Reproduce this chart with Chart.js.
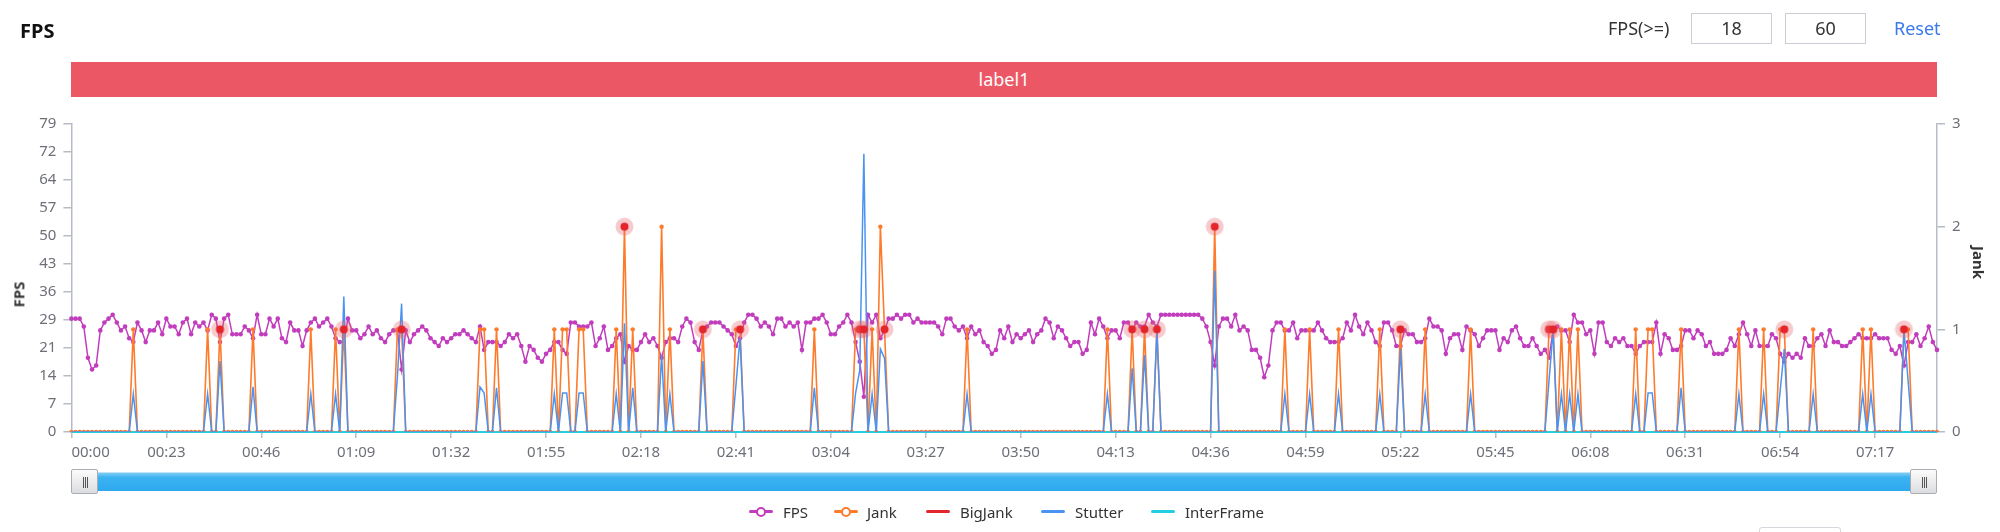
<!DOCTYPE html>
<html><head><meta charset="utf-8">
<script src="https://cdn.jsdelivr.net/npm/chart.js@4.4.1/dist/chart.umd.min.js"></script>
<style>
html,body{margin:0;padding:0;background:#fff;}
body{width:2000px;height:532px;position:relative;overflow:hidden;font-family:"Noto Sans",sans-serif;color:#333;}
#wrap{position:absolute;left:0;top:0;width:2000px;height:532px;z-index:0;}
.abs{position:absolute;z-index:2;white-space:nowrap;}
#title{left:20px;top:14px;font-size:20px;font-weight:bold;color:#111;line-height:34px;}
#ctlText{left:1608px;top:13px;line-height:31px;font-size:18px;color:#333;}
.box{top:13px;width:79px;height:29px;border:1px solid #c9cdd5;line-height:29px;text-align:center;font-size:18px;color:#333;background:#fff;}
#reset{left:1894px;top:13px;line-height:31px;font-size:18px;color:#3b79ef;}
#labelBar{left:71px;top:62px;width:1866px;height:35px;background:#ec5766;color:#fff;text-align:center;line-height:35px;font-size:18px;}
.axTitle{font-size:15px;font-weight:bold;color:#333;line-height:17px;transform-origin:center center;}
#slider{left:71px;top:469px;width:1866px;height:25px;}
#sbar{position:absolute;left:26px;right:26px;top:3px;height:19px;background:linear-gradient(#7fcdf6 0%,#3cb2f1 25%,#2ea9ee 100%);border-top:1px solid #bfe3f7;box-sizing:border-box;}
.handle{position:absolute;top:0;width:27px;height:25px;box-sizing:border-box;border:1px solid #a9acb2;border-radius:2px;background:linear-gradient(#fbfbfb,#dcdde0);}
.handle i{position:absolute;top:7px;width:1px;height:11px;background:#555;}
.leg{top:502px;height:20px;}
.licon{position:absolute;top:8px;width:24px;height:3px;border-radius:2px;}
.ldot{position:absolute;top:5px;left:7px;width:6px;height:6px;border-radius:50%;background:#fff;border-width:2px;border-style:solid;}
.ltext{position:absolute;top:0;line-height:20px;font-size:15px;color:#333;}
#corner{left:1759px;top:527px;width:80px;height:20px;border:1px solid #d3d6db;border-radius:3px;}
</style></head>
<body>
<div id="wrap"><canvas id="c"></canvas></div>
<div class="abs" id="title">FPS</div>
<div class="abs" id="ctlText">FPS(&gt;=)</div>
<div class="abs box" style="left:1691px">18</div>
<div class="abs box" style="left:1785px">60</div>
<div class="abs" id="reset">Reset</div>
<div class="abs" id="labelBar">label1</div>
<div class="abs axTitle" id="fpsTitle">FPS</div>
<div class="abs axTitle" id="jankTitle">Jank</div>
<div class="abs" id="slider"><div id="sbar"></div>
  <div class="handle" style="left:0"><i style="left:11px"></i><i style="left:13px"></i><i style="left:15px"></i></div>
  <div class="handle" style="right:0"><i style="left:11px"></i><i style="left:13px"></i><i style="left:15px"></i></div>
</div>
<div id="legend"></div>
<div class="abs" id="corner"></div>
<script>
// ---------- data ----------
const fps = [
29,29,29,27,19,16,17,26,28,29, 30,28,26,27,24,23,28,26,23,26,
26,28,25,29,27,27,25,28,29,25, 28,27,28,26,30,29,23,29,30,25,
25,25,27,26,24,30,25,25,29,27, 29,24,23,28,26,26,22,26,28,29,
27,28,29,27,24,23,23,29,26,26, 24,25,27,25,26,24,23,25,26,26,
16,26,23,25,26,27,26,24,23,22, 24,23,24,25,25,26,25,24,23,27,
21,23,23,23,22,23,25,24,25,22, 18,22,21,19,18,20,21,23,23,21,
20,28,28,27,27,27,28,22,24,27, 21,22,24,25,18,22,21,21,23,25,
23,24,22,19,23,24,24,23,27,29, 28,23,21,26,27,28,28,28,27,26,
25,22,24,28,30,30,29,27,28,27, 25,29,29,27,28,27,28,21,28,28,
29,29,30,28,25,25,27,28,30,28, 23,18,9,30,28,30,24,26,29,29,
30,29,30,30,28,29,28,28,28,28, 27,25,29,29,27,26,27,24,27,25,
26,23,22,20,21,26,24,27,23,25, 24,25,26,23,25,26,29,28,24,27,
26,24,22,23,23,20,21,28,25,29, 27,24,26,26,24,28,28,26,28,27,
27,30,28,27,30,30,30,30,30,30, 30,30,30,30,29,27,23,17,27,29,
29,27,30,26,27,26,21,21,19,14, 17,26,28,28,26,26,28,24,26,26,
26,26,28,26,24,23,23,23,24,28, 26,30,27,25,28,26,23,22,28,28,
26,22,22,26,25,25,23,23,24,29, 27,27,26,20,24,25,25,21,27,26,
25,22,24,26,26,26,21,24,23,26, 27,24,22,22,24,22,20,21,19,26,
27,26,26,23,30,28,28,25,26,20, 28,28,23,22,24,23,24,22,22,20,
22,23,23,23,28,20,25,24,21,21, 22,26,26,24,26,25,22,23,20,20,
20,21,24,22,25,28,25,22,26,22, 22,22,25,24,20,18,20,19,20,19,
24,22,22,24,25,22,26,23,23,22, 22,23,24,25,24,24,24,25,24,24,
24,21,20,22,17,23,23,25,22,24, 27,23,21];

// Jank events: sample index and value (all other samples are 0)
const jankIdx = [15,33,36,44,58,64,66,79,80,99,100,103,117,119,120,123,124,132,134,136,143,145,153,161,162,180,190,191,192,194,196,197,217,251,257,260,263,277,294,300,307,317,322,328,339,358,359,361,363,365,379,382,383,390,404,410,414,415,422,434,436,444,445];
const jankVal = [1,1,1,1,1,1,1,1,1,1,1,1,1,1,1,1,1,1,2,1,2,1,1,1,1,1,1,1,1,1,2,1,1,1,1,1,1,2,1,1,1,1,1,1,1,1,1,1,1,1,1,1,1,1,1,1,1,1,1,1,1,1,1];

// BigJank events (drawn at their jank level)
const bigJankIdx = [36,66,80,134,153,162,191,192,197,257,260,263,277,322,358,359,415,444];
const bigJankVal = [1,1,1,2,1,1,1,1,1,1,1,1,2,1,1,1,1,1];

// Stutter events (right axis)
const stutterIdx = [15,33,36,44,58,64,66,79,80,99,100,103,117,119,120,123,124,132,134,136,143,145,153,161,162,180,190,191,192,194,196,197,217,251,257,260,263,277,294,300,307,317,322,328,339,358,359,361,363,365,379,382,383,390,404,410,414,415,422,434,436,444,445];
const stutterVal = [0.37,0.37,0.69,0.44,0.37,0.37,1.32,0.55,1.25,0.44,0.38,0.43,0.37,0.38,0.38,0.38,0.38,0.37,1.06,0.43,0.75,0.37,0.69,0.45,0.92,0.43,0.38,0.6,2.71,0.37,0.81,0.72,0.37,0.37,0.62,0.75,0.99,1.57,0.37,0.37,0.37,0.37,0.81,0.37,0.37,0.5,0.99,0.37,0.37,0.37,0.37,0.38,0.38,0.43,0.37,0.37,0.4,0.81,0.37,0.37,0.37,0.99,0.5];

// InterFrame: flat at 0 for the whole run
const interFrameLevel = 0;

const xTickLabels = ['00:00','00:23','00:46','01:09','01:32','01:55','02:18','02:41','03:04','03:27','03:50','04:13','04:36','04:59','05:22','05:45','06:08','06:31','06:54','07:17'];
const yLeftTickLabels = ['0','7','14','21','29','36','43','50','57','64','72','79'];
const yLeftMax = 78.8;
const yRightTickLabels = ['0','1','2','3'];

// ---------- build library tables ----------
const pad = n => String(n).padStart(2,'0');
const categories = fps.map((_, i) => pad(Math.floor(i/60)) + ':' + pad(i%60));
const jank = fps.map(() => 0); jankIdx.forEach((k, j) => { jank[k] = jankVal[j]; });
const bigJank = fps.map(() => null); bigJankIdx.forEach((k, j) => { bigJank[k] = bigJankVal[j]; });
const stutter = fps.map(() => 0); stutterIdx.forEach((k, j) => { stutter[k] = stutterVal[j]; });
const interFrame = fps.map(() => interFrameLevel);

const C = {fps:'#c13dbd', jank:'#fd7b2b', big:'#e3262c', stutter:'#4b93f2', inter:'#22cfe0'};
const FONT = '"Noto Sans", sans-serif';

function haloImage(){
  const c = document.createElement('canvas'); c.width = 19; c.height = 19;
  const g = c.getContext('2d');
  g.fillStyle = 'rgba(232,96,104,0.33)'; g.beginPath(); g.arc(9.5,9.5,9,0,Math.PI*2); g.fill();
  g.fillStyle = C.big; g.beginPath(); g.arc(9.5,9.5,4,0,Math.PI*2); g.fill();
  return c;
}

// legend (HTML)
const legendItems = [
  {name:'FPS', color:C.fps, dot:true, icon:749, text:783},
  {name:'Jank', color:C.jank, dot:true, icon:834, text:867},
  {name:'BigJank', color:C.big, dot:false, icon:926, text:960},
  {name:'Stutter', color:C.stutter, dot:false, icon:1041, text:1075},
  {name:'InterFrame', color:C.inter, dot:false, icon:1151, text:1185}
];
const lg = document.getElementById('legend');
legendItems.forEach(it => {
  const d = document.createElement('div'); d.className = 'abs leg'; d.style.left = it.icon + 'px'; d.style.width = (it.text - it.icon + 90) + 'px';
  d.innerHTML = '<div class="licon" style="left:0;background:' + it.color + '"></div>' +
    (it.dot ? '<div class="ldot" style="border-color:' + it.color + '"></div>' : '') +
    '<div class="ltext" style="left:' + (it.text - it.icon) + 'px">' + it.name + '</div>';
  lg.appendChild(d);
});

// rotated axis titles
function placeRot(id, cx, cy, deg){
  const e = document.getElementById(id);
  const w = e.offsetWidth, h = e.offsetHeight;
  e.style.left = (cx - w/2) + 'px'; e.style.top = (cy - h/2) + 'px';
  e.style.transform = 'rotate(' + deg + 'deg)';
}
placeRot('fpsTitle', 19, 294, -90);
placeRot('jankTitle', 1978, 262, 90);

const firstLabelLeft = {
  id: 'firstLabelLeft',
  beforeDraw(chart){
    try {
      const s = chart.scales.x;
      const items = s.getLabelItems(chart.chartArea);
      const it = items.find(o => o.label === xTickLabels[0]);
      if (it) { it.options.textAlign = 'left'; it.options.translation[0] = s.getPixelForValue(0); }
    } catch (e) {}
  }
};

const axisCol = '#b6bbc4';
new Chart(document.getElementById('c'), {
  type: 'line',
  data: {
    labels: categories,
    datasets: [
      {label:'BigJank', data:bigJank, yAxisID:'yR', showLine:false, pointStyle:haloImage(), pointRadius:9, order:0, borderColor:C.big, backgroundColor:C.big},
      {label:'Stutter', data:stutter, yAxisID:'yR', borderColor:C.stutter, backgroundColor:C.stutter, borderWidth:1.5, pointRadius:0, order:2},
      {label:'Jank', data:jank, yAxisID:'yR', borderColor:C.jank, backgroundColor:C.jank, borderWidth:1.6, pointRadius:2.2, pointBorderWidth:0, pointBackgroundColor:C.jank, order:3},
      {label:'InterFrame', data:interFrame, yAxisID:'yR', borderColor:C.inter, backgroundColor:C.inter, borderWidth:2, pointRadius:0, order:4, clip:{left:0,right:0,top:0,bottom:2}},
      {label:'FPS', data:fps, yAxisID:'yL', borderColor:C.fps, backgroundColor:C.fps, borderWidth:1.5, pointRadius:2.3, pointBorderWidth:0, pointBackgroundColor:C.fps, order:5}
    ]
  },
  options: {
    responsive: true, maintainAspectRatio: false, animation: false, events: [],
    layout: {padding: {top:124, left:0, right:0, bottom:0}},
    elements: {line: {tension: 0}},
    plugins: {legend: {display:false}, tooltip: {enabled:false}},
    scales: {
      x: {
        type: 'category', offset: false,
        grid: {drawOnChartArea:false, drawTicks:true, tickLength:6, color:axisCol, lineWidth:1.5},
        border: {display:true, color:axisCol, width:2},
        ticks: {autoSkip:false, maxRotation:0, minRotation:0, padding:6, color:'#6e7079', font:{size:15, family:FONT},
          callback(v){ return this.getLabelForValue(v); }},
        afterBuildTicks(s){ s.ticks = s.ticks.filter(t => xTickLabels.includes(categories[t.value])); },
        afterFit(s){ s.height = 100; }
      },
      yL: {
        type: 'linear', position: 'left', min: 0, max: yLeftMax,
        grid: {drawOnChartArea:false, drawTicks:true, tickLength:8, color:axisCol, lineWidth:1.5},
        border: {display:true, color:axisCol, width:1.5},
        ticks: {padding:7, color:'#6e7079', font:{size:15, family:FONT}, callback(v, i){ return yLeftTickLabels[i]; }},
        afterBuildTicks(s){ s.ticks = yLeftTickLabels.map((_, i) => ({value: i * yLeftMax / (yLeftTickLabels.length - 1)})); },
        afterFit(s){ s.width = 71.4; }
      },
      yR: {
        type: 'linear', position: 'right', min: 0, max: 3,
        grid: {drawOnChartArea:false, drawTicks:true, tickLength:8, color:axisCol, lineWidth:1.5},
        border: {display:true, color:axisCol, width:1.5},
        ticks: {padding:7, color:'#6e7079', font:{size:15, family:FONT}, callback(v, i){ return yRightTickLabels[i]; }},
        afterBuildTicks(s){ s.ticks = yRightTickLabels.map((_, i) => ({value: i})); },
        afterFit(s){ s.width = 63; }
      }
    }
  },
  plugins: [firstLabelLeft]
});
</script>
</body></html>
